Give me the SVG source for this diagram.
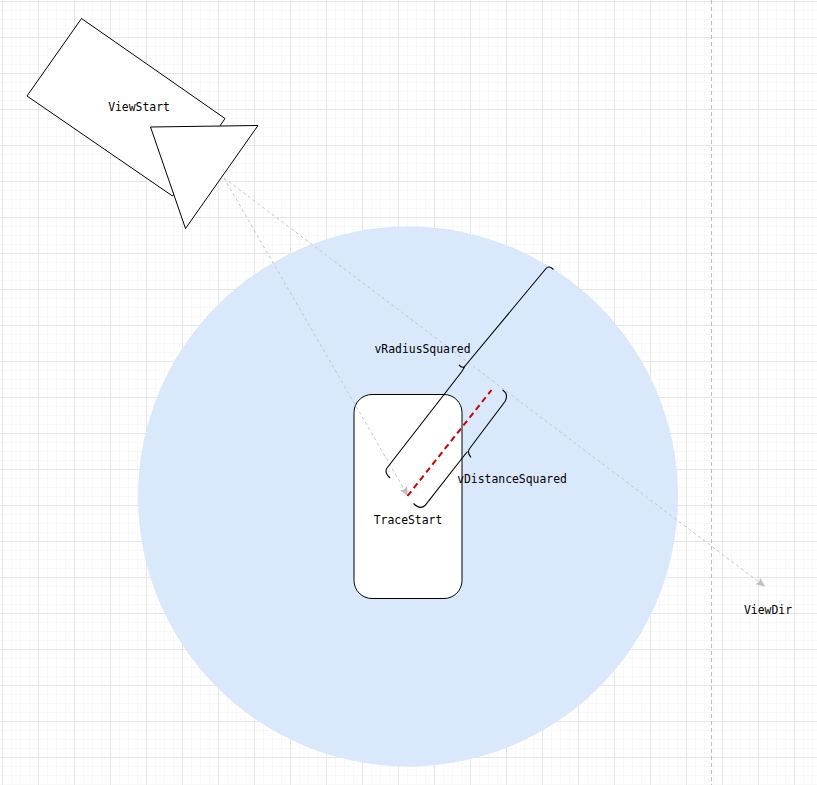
<svg xmlns="http://www.w3.org/2000/svg" width="817" height="785" viewBox="0 0 817 785">
<style>
.shape{fill:#fff;stroke:#000;stroke-width:1}
.brace{fill:none;stroke:#000;stroke-width:1.1}
.ghost{fill:none;stroke:#c4c4c4;stroke-width:1;stroke-dasharray:3 3}
.t{font-family:"DejaVu Sans Mono","Liberation Mono",monospace;font-size:11.4px;fill:#000;text-anchor:middle}
</style>
<defs>
<pattern id="minor" width="9" height="9" patternUnits="userSpaceOnUse" x="2" y="1"><path d="M.5 0V9M0 .5H9" fill="none" stroke="#f8f8f8" stroke-width="1"/></pattern>
<pattern id="major" width="36" height="36" patternUnits="userSpaceOnUse" x="2" y="1"><path d="M.5 0V36M0 .5H36" fill="none" stroke="#e6e6e6" stroke-width="1"/></pattern>
<marker id="ah" markerUnits="userSpaceOnUse" markerWidth="10" markerHeight="10" refX="9" refY="4" orient="auto"><path d="M0 0L9 4L0 8L1.5 4Z" fill="#bfbfbf"/></marker>
</defs>
<rect width="817" height="785" fill="#fff"/>
<rect width="817" height="785" fill="url(#minor)"/>
<rect width="817" height="785" fill="url(#major)"/>
<path d="M711.5 0V785" fill="none" stroke="#bdbdbd" stroke-width="1" stroke-dasharray="4 3"/>
<g id="sphere"><circle cx="408" cy="496.5" r="270" fill="#dae8fc"/></g>
<g id="TraceStart"><rect class="shape" x="354" y="394.5" width="108" height="204" rx="18"/><text class="t" x="408" y="524">TraceStart</text></g>
<g id="ViewStart"><path class="shape" d="M81.5 18.5L225 118.5L172.5 196L27 96Z"/><text class="t" x="139" y="111">ViewStart</text></g>
<g id="connectors">
<path class="ghost" marker-end="url(#ah)" d="M224 178L408 496"/>
<path class="ghost" marker-end="url(#ah)" d="M224 178L765 586.5"/>
<path d="M407.5 496L491.5 390" fill="none" stroke="#cc0000" stroke-width="2" stroke-dasharray="6 4"/>
<path class="brace" d="M553.5 269.5Q549 265 546 268.5L465 366Q463 369 459 365M465 366Q463.5 369 461.5 372L387 468Q384 472 390 478"/>
<path class="brace" d="M502.5 390Q509 394 505 401.5L470 448Q466.5 452 471 457.5M467.5 451.5Q466.5 453 465 454.5L425 505.5Q420 510 413.5 503.5"/>
</g>
<g id="camera"><path class="shape" d="M150.5 127L258 125.5L185.5 228.5Z"/></g>
<g id="labels">
<text class="t" x="422.5" y="353">vRadiusSquared</text>
<text class="t" x="512" y="483">vDistanceSquared</text>
<text class="t" x="768" y="614">ViewDir</text>
</g>
</svg>
